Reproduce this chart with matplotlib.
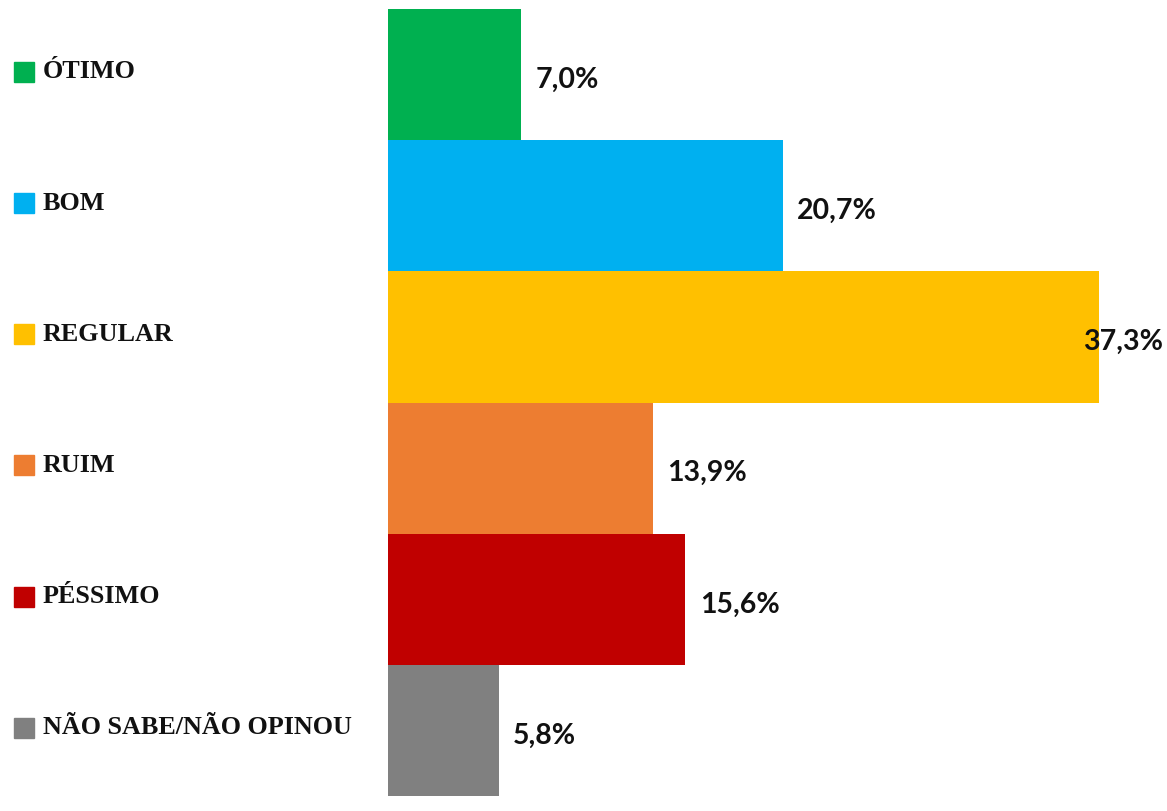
import matplotlib
matplotlib.use("Agg")
import matplotlib.pyplot as plt
import matplotlib.transforms as mtransforms

# dados
categorias = ["ÓTIMO", "BOM", "REGULAR", "RUIM", "PÉSSIMO", "NÃO SABE/NÃO OPINOU"]
valores = [7.0, 20.7, 37.3, 13.9, 15.6, 5.8]
cores = ["#00B050", "#00B0F0", "#FFC000", "#ED7D31", "#C00000", "#808080"]

W, H = 1167, 811
fig = plt.figure(figsize=(W / 100, H / 100), dpi=100)
ax = fig.add_axes([388 / W, 15 / H, (W - 388) / W, (796 - 9) / H])

pos = list(range(len(categorias)))
ax.barh(pos, valores, height=1.0, color=cores, edgecolor="none")
ax.set_ylim(len(categorias) - 0.5, -0.5)
ax.set_xlim(0, 40.87)
ax.axis("off")

# rótulos de valor
xmax = ax.get_xlim()[1]
for i, v in enumerate(valores):
    txt = f"{v:.1f}%".replace(".", ",")
    if v + 5 > xmax:
        # não cabe à direita: encosta na borda
        ax.text(xmax - 0.2, i + 0.04, txt, ha="right", va="center",
                fontsize=20.5, fontweight="bold", family="Lato", color="#111111")
    else:
        ax.text(v + 0.75, i + 0.04, txt, ha="left", va="center",
                fontsize=20.5, fontweight="bold", family="Lato", color="#111111")

# legenda à esquerda
trans = mtransforms.blended_transform_factory(fig.transFigure, ax.transData)
for i, (cat, c) in enumerate(zip(categorias, cores)):
    ax.plot([24 / W], [i - 0.02], marker="s", markersize=14.4, color=c,
            transform=trans, clip_on=False, linestyle="none")
    ax.text(43 / W, i - 0.02, cat, transform=trans, ha="left", va="center",
            fontsize=18.8, fontweight="bold", family="Liberation Serif", color="#111111")

plt.savefig("out.png", dpi=100)
